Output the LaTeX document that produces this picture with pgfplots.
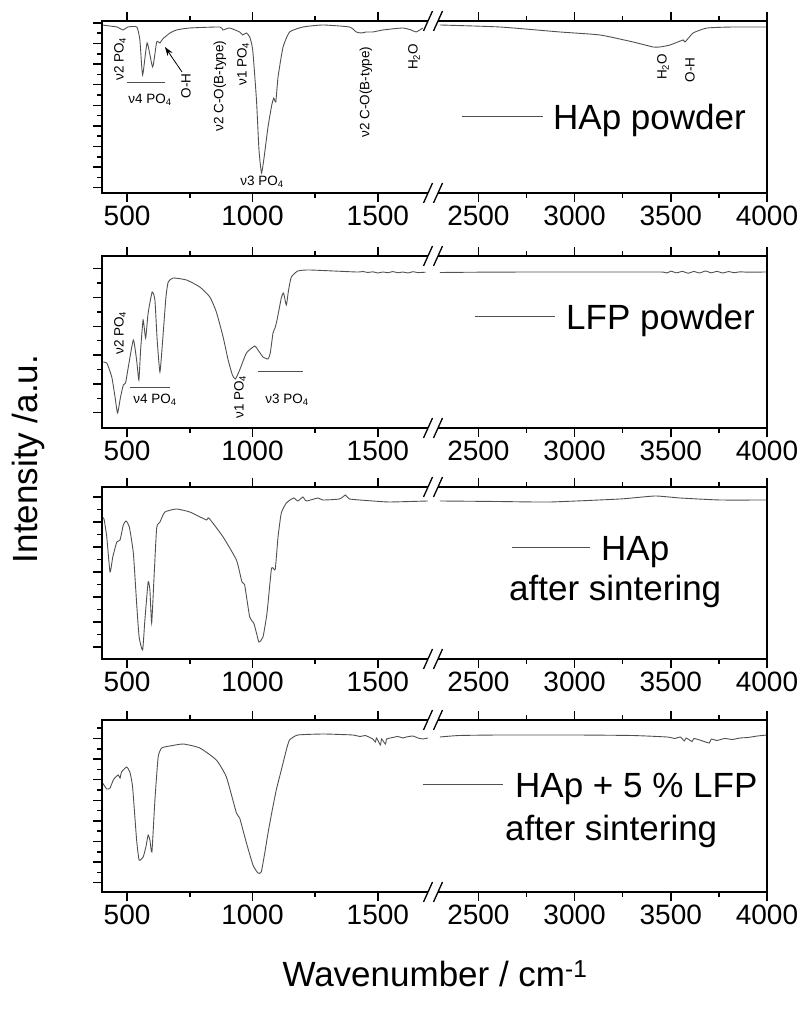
\documentclass[border=0pt]{standalone}
\usepackage{fontspec}
\setmainfont{Liberation Sans}
\usepackage{pgfplots}
\pgfplotsset{compat=1.18}
\usetikzlibrary{arrows.meta}
\definecolor{specgray}{HTML}{505050}
\newcommand{\tk}{\fontsize{28}{30}\selectfont}
\newcommand{\lgf}{\fontsize{35}{38}\selectfont}
\newcommand{\an}{\fontsize{13.5}{14}\selectfont}
\pgfplotsset{
  base/.style={scale only axis, height=172pt, ymin=0, ymax=172, anchor=south west,
    axis line style={draw=none}, tick align=outside, major tick length=9pt, minor tick length=5pt,
    every tick/.append style={black, line width=1.5pt},
    /pgf/number format/assume math mode=true, /pgf/number format/1000 sep={},
    xticklabel style={font=\tk}, yticklabels={}, ytick pos=left, clip mode=individual},
  Lax/.style={base, width=326pt, xmin=400, xmax=1700, xtick={500,1000,1500}, minor xtick={750,1250}},
  Rax/.style={base, width=329pt, xmin=2290, xmax=4000, xtick={2500,3000,3500,4000}, minor xtick={2750,3250,3750}, ytick=\empty, minor ytick=\empty},
  spec/.style={color=specgray, line width=0.9pt, mark=none, smooth, tension=0.3},
}
\tikzset{frame/.style={black, line width=1.6pt, line join=miter}}
\newcommand{\Lframe}{\draw[frame] (rel axis cs:1,0) -- (rel axis cs:0,0) -- (rel axis cs:0,1) -- (rel axis cs:1,1);}
\newcommand{\Rframe}{\draw[frame] (rel axis cs:0,1) -- (rel axis cs:1,1) -- (rel axis cs:1,0) -- (rel axis cs:0,0);}
\newcommand{\brk}[1]{\draw[black, line width=1.3pt] (423.5pt,#1pt-10pt) -- (432.5pt,#1pt+10pt) (433.5pt,#1pt-10pt) -- (442.5pt,#1pt+10pt);}
\begin{document}
\begin{tikzpicture}
\path[use as bounding box] (0,0) rectangle (803pt,1009pt);

% ---------------- Panel 1: HAp powder
\begin{axis}[Lax, at={(102pt,816pt)}, ytick={5.3,25.9,46.5,67.1,87.7,108.3,128.9,149.5,170.1}, minor ytick={15.6,36.2,56.8,77.4,98,118.6,139.2,159.8}]
\addplot[spec] coordinates {(400,168)(430,167)(460,166)(484,163)(503,166)(539,166)(551,153)(562,118)(580,150)(602,126)(618,151)(631,150)(642,154)(671,160)(697,163)(750,165)(870,166)(882,163)(909,165)(949,161)(961,158)(976,160)(989,156)(1001,143)(1016,93)(1026,43)(1036,20)(1045,33)(1062,66)(1077,88)(1085,95)(1093,91)(1102,116)(1122,146)(1148,161)(1201,166)(1281,168)(1387,166)(1414,161)(1434,160)(1454,161)(1480,161)(1520,163)(1599,165)(1633,163)(1653,161)(1679,165)};
\Lframe
\end{axis}
\begin{axis}[Rax, at={(438pt,816pt)}]
\addplot[spec] coordinates {(2300,168)(2612,166)(2924,161)(3132,158)(3304,151)(3408,146)(3444,146)(3496,148)(3564,153)(3574,151)(3616,160)(3689,165)(3824,166)(4000,166)};
\Rframe
\end{axis}
\brk{816}\brk{988}

% ---------------- Panel 2: LFP powder
\begin{axis}[Lax, at={(102pt,581pt)}, ytick={15.3,44.1,72.9,101.7,130.5,159.3}, minor ytick={29.7,58.5,87.3,116.1,144.9}]
\addplot[spec] coordinates {(400,66)(419,65)(439,51)(452,31)(462,15)(474,31)(485,43)(494,45)(505,61)(525,88)(538,68)(547,48)(554,78)(564,108)(574,90)(584,115)(600,136)(611,128)(620,88)(631,56)(642,88)(655,131)(664,146)(684,150)(737,148)(790,141)(830,131)(856,116)(883,91)(903,68)(920,53)(932,49)(949,58)(976,75)(1009,82)(1022,78)(1042,71)(1062,69)(1071,75)(1082,95)(1090,100)(1098,108)(1115,130)(1124,135)(1135,123)(1144,138)(1155,151)(1181,157)(1228,158)(1414,156)(1440,156.5)(1460,155.5)(1480,156.2)(1500,155)(1520,156)(1540,155.3)(1560,156.4)(1580,155.2)(1600,156)(1620,155)(1640,156.3)(1660,155.4)(1690,155.8)};
\Lframe
\end{axis}
\begin{axis}[Rax, at={(438pt,581pt)}]
\addplot[spec] coordinates {(2300,155.5)(2500,155.8)(2800,156)(3200,156)(3450,156)(3480,155)(3500,156.8)(3530,155.2)(3560,156.6)(3590,154.8)(3620,156.5)(3650,155)(3680,157)(3710,155.2)(3740,156.6)(3770,155)(3800,156.4)(3830,155.3)(3860,156.2)(3900,155.8)(4000,156)};
\Rframe
\end{axis}
\brk{581}\brk{753}

% ---------------- Panel 3: HAp after sintering
\begin{axis}[Lax, at={(102pt,350pt)}, ytick={12,37,62,87,112,137,162}, minor ytick={24.5,49.5,74.5,99.5,124.5,149.5}]
\addplot[spec] coordinates {(400,142)(408,140)(419,122)(432,87)(443,102)(459,117)(472,119)(485,134)(496,138)(509,132)(525,106)(538,56)(548,22)(562,9)(571,39)(584,77)(591,69)(598,36)(607,79)(618,131)(631,137)(651,147)(697,150)(750,147)(817,139)(826,141)(883,122)(936,99)(956,79)(961,76)(969,74)(989,42)(1005,36)(1016,26)(1026,17)(1042,22)(1058,46)(1075,89)(1082,91)(1091,90)(1102,122)(1115,146)(1135,156)(1164,161)(1181,158)(1201,162)(1215,158)(1261,161)(1281,159)(1347,160)(1371,164)(1387,160)(1480,158)(1546,157)(1699,158)};
\Lframe
\end{axis}
\begin{axis}[Rax, at={(438pt,350pt)}]
\addplot[spec] coordinates {(2300,158)(2600,157.5)(2872,157)(3236,160)(3418,163)(3548,161)(3756,159)(4000,159)};
\Rframe
\end{axis}
\brk{350}\brk{522}

% ---------------- Panel 4: HAp + 5 % LFP after sintering
\begin{axis}[Lax, at={(102pt,117pt)}, ytick={9.3,29.9,50.5,71.1,91.7,112.3,132.9,153.5}, minor ytick={19.6,40.2,60.8,81.4,102,122.6,143.2,163.8}]
\addplot[spec] coordinates {(400,110)(419,103)(432,104)(445,112)(455,115)(465,117)(472,114)(478,120)(498,125)(511,120)(522,105)(538,52)(548,32)(564,35)(575,45)(584,57)(591,52)(599,40)(611,92)(624,135)(638,144)(671,146)(724,148)(790,144)(856,132)(896,115)(936,79)(949,74)(976,49)(1002,27)(1022,19)(1035,20)(1049,39)(1062,59)(1079,82)(1095,102)(1115,122)(1135,142)(1148,152)(1181,157)(1281,158)(1350,157.5)(1400,157)(1430,155.5)(1450,156.5)(1480,153)(1490,150)(1495,154)(1510,147)(1515,153)(1530,148)(1535,153)(1550,154)(1580,155.5)(1600,154)(1613,155)(1640,156)(1660,154)(1680,153)(1699,154)};
\Lframe
\end{axis}
\begin{axis}[Rax, at={(438pt,117pt)}]
\addplot[spec] coordinates {(2300,155)(2400,156.5)(2612,157)(3000,157)(3300,156.5)(3481,155)(3520,153.5)(3550,155)(3570,151)(3580,154)(3610,150.5)(3620,153.5)(3650,152)(3700,149)(3710,153)(3740,151.5)(3780,153.5)(3820,152.5)(3860,154)(3900,154.5)(3950,156)(4000,157)};
\Rframe
\end{axis}
\brk{117}\brk{289}

% ---------------- legends
\draw[specgray, line width=1pt] (462pt,892pt) -- (543pt,892pt);
\node[font=\lgf, anchor=base west, inner sep=0] at (553pt,879.5pt) {HAp powder};
\draw[specgray, line width=1pt] (475pt,692pt) -- (555pt,692pt);
\node[font=\lgf, anchor=base west, inner sep=0] at (566pt,679.5pt) {LFP powder};
\draw[specgray, line width=1pt] (512pt,461pt) -- (590pt,461pt);
\node[font=\lgf, anchor=base west, inner sep=0] at (601pt,448.5pt) {HAp};
\node[font=\lgf, anchor=base west, inner sep=0] at (509pt,408.5pt) {after sintering};
\draw[specgray, line width=1pt] (423pt,224pt) -- (503pt,224pt);
\node[font=\lgf, anchor=base west, inner sep=0] at (515pt,211pt) {HAp + 5 \% LFP};
\node[font=\lgf, anchor=base west, inner sep=0] at (505pt,168pt) {after sintering};

% ---------------- annotations panel 1
\node[font=\an, rotate=90, inner sep=0] at (120pt,950pt) {ν2 PO\textsubscript{4}};
\draw[specgray, line width=0.8pt] (127pt,927pt) -- (165pt,927pt);
\node[font=\an, inner sep=0] at (150pt,909pt) {ν4 PO\textsubscript{4}};
\node[font=\an, rotate=90, inner sep=0] at (186pt,923pt) {O-H};
\draw[-{Stealth[length=9pt,width=6pt]}, line width=0.8pt] (182pt,937pt) -- (165pt,962pt);
\node[font=\an, rotate=90, inner sep=0] at (220pt,923pt) {ν2 C-O(B-type)};
\node[font=\an, rotate=90, inner sep=0] at (243pt,945pt) {ν1 PO\textsubscript{4}};
\node[font=\an, inner sep=0] at (262pt,827pt) {ν3 PO\textsubscript{4}};
\node[font=\an, rotate=90, inner sep=0] at (366pt,917pt) {ν2 C-O(B-type)};
\node[font=\an, rotate=90, inner sep=0] at (414pt,952pt) {H\textsubscript{2}O};
\node[font=\an, rotate=90, inner sep=0] at (663pt,942pt) {H\textsubscript{2}O};
\node[font=\an, rotate=90, inner sep=0] at (690pt,939pt) {O-H};

% ---------------- annotations panel 2
\node[font=\an, rotate=90, inner sep=0] at (120pt,676pt) {ν2 PO\textsubscript{4}};
\draw[specgray, line width=0.8pt] (130pt,622pt) -- (170pt,622pt);
\node[font=\an, inner sep=0] at (155pt,609pt) {ν4 PO\textsubscript{4}};
\node[font=\an, rotate=90, inner sep=0] at (240pt,612pt) {ν1 PO\textsubscript{4}};
\draw[specgray, line width=0.8pt] (258pt,638pt) -- (303pt,638pt);
\node[font=\an, inner sep=0] at (287pt,609pt) {ν3 PO\textsubscript{4}};

% ---------------- axis labels
\node[font=\lgf, anchor=base, inner sep=0] at (435pt,22pt) {Wavenumber / cm\textsuperscript{-1}};
\node[font=\lgf, rotate=90, anchor=base, inner sep=0] at (37pt,550pt) {Intensity /a.u.};
\end{tikzpicture}
\end{document}
